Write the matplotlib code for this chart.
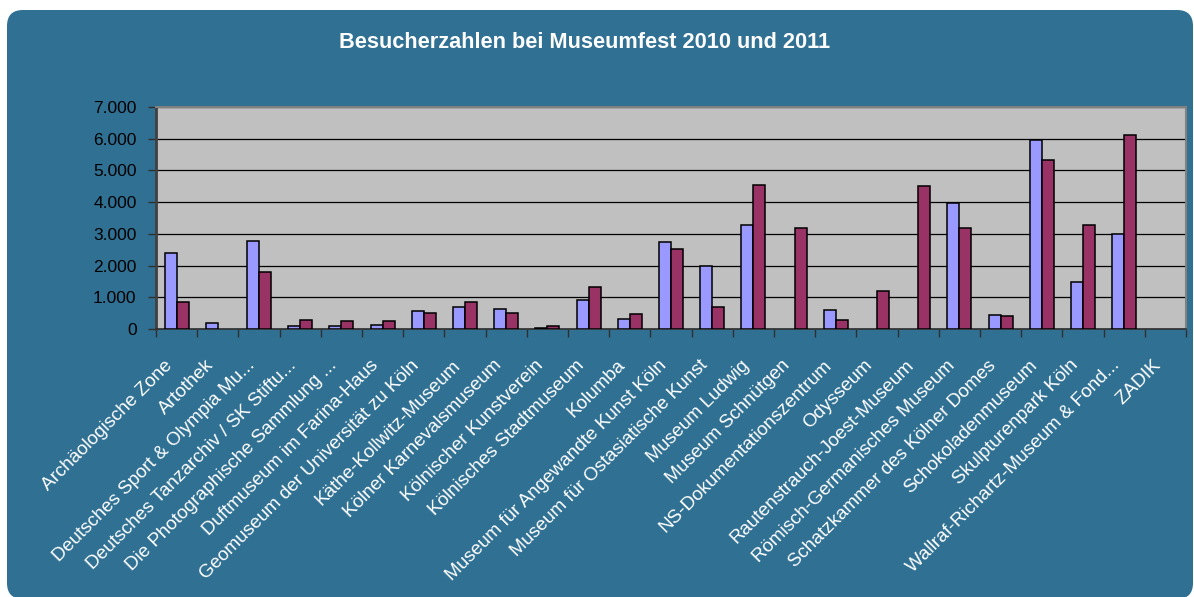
import numpy as np
import matplotlib
matplotlib.use("Agg")
import matplotlib.pyplot as plt
import matplotlib.transforms as mtransforms
from matplotlib.patches import FancyBboxPatch
from matplotlib.ticker import FuncFormatter, FixedLocator

museen = [
    "Archäologische Zone", "Artothek", "Deutsches Sport & Olympia Mu...",
    "Deutsches Tanzarchiv / SK Stiftu...", "Die Photographische Sammlung ...",
    "Duftmuseum im Farina-Haus", "Geomuseum der Universität zu Köln",
    "Käthe-Kollwitz-Museum", "Kölner Karnevalsmuseum", "Kölnischer Kunstverein",
    "Kölnisches Stadtmuseum", "Kolumba", "Museum für Angewandte Kunst Köln",
    "Museum für Ostasiatische Kunst", "Museum Ludwig", "Museum Schnütgen",
    "NS-Dokumentationszentrum", "Odysseum", "Rautenstrauch-Joest-Museum",
    "Römisch-Germanisches Museum", "Schatzkammer des Kölner Domes",
    "Schokoladenmuseum", "Skulpturenpark Köln",
    "Wallraf-Richartz-Museum & Fond...", "ZADIK",
]
besucher_2010 = [2410, 180, 2770, 100, 100, 140, 570, 700, 640, 40, 920, 325,
                 2740, 1990, 3290, 0, 600, 0, 0, 3970, 450, 5970, 1480, 2980, 0]
besucher_2011 = [840, 0, 1800, 280, 240, 240, 490, 850, 490, 100, 1340, 460,
                 2510, 690, 4540, 3200, 280, 1195, 4500, 3200, 410, 5330, 3290, 6120, 0]

plt.rcParams['font.family'] = ['Liberation Sans', 'DejaVu Sans']

fig = plt.figure(figsize=(11.94, 5.97), dpi=100, facecolor='white')

# rounded dark blue panel behind everything
panel = FancyBboxPatch((0.07, -0.02), 11.86, 5.89,
                       boxstyle="round,pad=0,rounding_size=0.16",
                       transform=fig.dpi_scale_trans, facecolor='#2f7093',
                       edgecolor='none', zorder=-10)
fig.patches.append(panel)

fig.text(584.5 / 1194, 1 - 43 / 597, "Besucherzahlen bei Museumfest 2010 und 2011",
         ha='center', va='center', color='white', fontsize=15.7, fontweight='bold')

ax = fig.add_axes([156 / 1194, 1 - 329 / 597, 1030 / 1194, 222 / 597])
ax.set_facecolor('#c0c0c0')

x = np.arange(len(museen))
w = 0.29
# no outline for empty bars
kanten_2010 = ['black' if v > 0 else 'none' for v in besucher_2010]
kanten_2011 = ['black' if v > 0 else 'none' for v in besucher_2011]
ax.bar(x - w / 2, besucher_2010, w, color='#9999ff', edgecolor=kanten_2010, linewidth=1.1, zorder=3)
ax.bar(x + w / 2, besucher_2011, w, color='#993366', edgecolor=kanten_2011, linewidth=1.1, zorder=3)

ax.set_xlim(-0.5, len(museen) - 0.5)
ax.set_ylim(0, 7000)
ax.set_yticks(np.arange(0, 7001, 1000))
ax.yaxis.set_major_formatter(FuncFormatter(lambda v, p: f"{int(v):,}".replace(",", ".")))
ax.yaxis.grid(True, color='black', linewidth=0.9, zorder=1)
ax.set_axisbelow(True)

ax.set_xticks(x)
ax.set_xticklabels(museen, rotation=45, ha='right', rotation_mode='anchor',
                   color='white', fontsize=13.6)
ax.xaxis.set_minor_locator(FixedLocator(np.arange(-0.5, len(museen), 1.0)))
ax.tick_params(axis='x', which='major', length=0, pad=10)
ax.tick_params(axis='x', which='minor', length=6, color='#303030', width=1)
ax.tick_params(axis='y', length=6, color='#303030', width=1, labelsize=12.5, pad=8)

# shift labels so their ends sit left of the group, like the original
verschiebung = mtransforms.ScaledTranslation(-13 / 100, -14 / 100, fig.dpi_scale_trans)
for lbl in ax.get_xticklabels():
    lbl.set_transform(lbl.get_transform() + verschiebung)

for side in ['top', 'right']:
    ax.spines[side].set_color('#808080')
    ax.spines[side].set_linewidth(1.5)
ax.spines['left'].set_color('#404040')
ax.spines['left'].set_linewidth(2)
ax.spines['bottom'].set_color('#303030')
ax.spines['bottom'].set_linewidth(1.2)

fig.savefig("out.png", dpi=100, facecolor=fig.get_facecolor())
